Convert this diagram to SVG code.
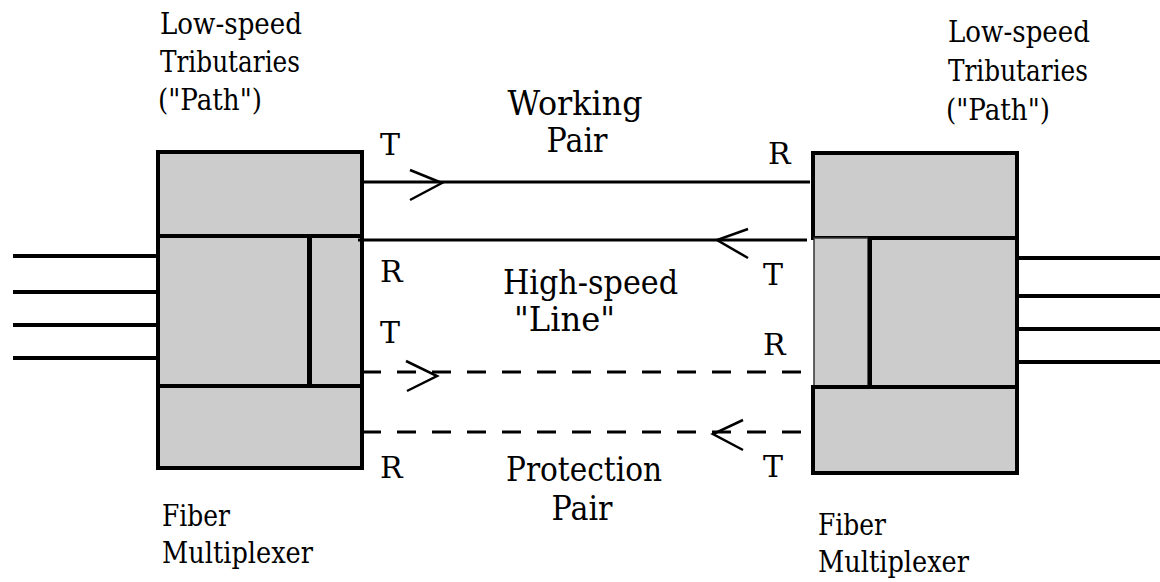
<svg xmlns="http://www.w3.org/2000/svg" width="1160" height="582" viewBox="0 0 1160 582">
  <style>
    text { font-family: 'DejaVu Serif', 'Liberation Serif', serif; font-size: 29px; fill: #000; }
    .mid { font-size: 33px; }
    .port { font-size: 30px; }
    .blk { fill: #cccccc; stroke: #000; stroke-width: 4; }
    .thin { fill: #cccccc; stroke: #333; stroke-width: 1.5; }
    .trib { stroke: #000; stroke-width: 4; fill: none; }
    .fiber { stroke: #000; stroke-width: 3; fill: none; }
    .dash { stroke-dasharray: 19 16; }
    .head { stroke: #000; stroke-width: 2.5; fill: none; }
  </style>

  <rect width="1160" height="582" fill="#fff"/>

  <!-- west multiplexer -->
  <g id="mux-west">
    <line class="trib" x1="13" y1="256" x2="157" y2="256"/>
    <line class="trib" x1="13" y1="292" x2="157" y2="292"/>
    <line class="trib" x1="13" y1="325" x2="157" y2="325"/>
    <line class="trib" x1="13" y1="358" x2="157" y2="358"/>
    <rect class="blk" x="158" y="152" width="204" height="84"/>
    <rect class="blk" x="158" y="236" width="151" height="150"/>
    <rect class="blk" x="310" y="236" width="52" height="150"/>
    <rect class="blk" x="158" y="386" width="204" height="82"/>
    <text x="160" y="34" textLength="142" lengthAdjust="spacingAndGlyphs">Low-speed</text>
    <text x="160" y="72" textLength="140" lengthAdjust="spacingAndGlyphs">Tributaries</text>
    <text x="158" y="110" textLength="104" lengthAdjust="spacingAndGlyphs">("Path")</text>
    <text x="162" y="526" textLength="68" lengthAdjust="spacingAndGlyphs">Fiber</text>
    <text x="162" y="563" textLength="151" lengthAdjust="spacingAndGlyphs">Multiplexer</text>
  </g>

  <!-- east multiplexer -->
  <g id="mux-east">
    <line class="trib" x1="1018" y1="258" x2="1160" y2="258"/>
    <line class="trib" x1="1018" y1="296" x2="1160" y2="296"/>
    <line class="trib" x1="1018" y1="329" x2="1160" y2="329"/>
    <line class="trib" x1="1018" y1="362" x2="1160" y2="362"/>
    <rect class="blk" x="813" y="153" width="204" height="85"/>
    <rect class="thin" x="814" y="238" width="54" height="149"/>
    <rect class="blk" x="870" y="238" width="147" height="149"/>
    <rect class="blk" x="813" y="387" width="204" height="86"/>
    <text x="948" y="42" textLength="142" lengthAdjust="spacingAndGlyphs">Low-speed</text>
    <text x="948" y="81" textLength="140" lengthAdjust="spacingAndGlyphs">Tributaries</text>
    <text x="946" y="120" textLength="104" lengthAdjust="spacingAndGlyphs">("Path")</text>
    <text x="818" y="535" textLength="68" lengthAdjust="spacingAndGlyphs">Fiber</text>
    <text x="818" y="572" textLength="151" lengthAdjust="spacingAndGlyphs">Multiplexer</text>
  </g>

  <!-- fiber pairs between the two multiplexers -->
  <g id="links">
    <line class="fiber" x1="362" y1="182" x2="810" y2="182"/>
    <polyline class="head" points="410,170 442,183 410,200"/>
    <line class="fiber" x1="358" y1="240" x2="807" y2="240"/>
    <polyline class="head" points="748,229 717,240 748,258"/>
    <line class="fiber dash" x1="362" y1="372" x2="810" y2="372"/>
    <polyline class="head" points="406,361 437,376 407,391"/>
    <line class="fiber dash" x1="362" y1="432" x2="810" y2="432"/>
    <polyline class="head" points="743,420 713,434 743,450"/>
  </g>

  <!-- port and pair labels -->
  <g id="labels">
    <text class="port" x="380" y="155">T</text>
    <text class="port" x="380" y="282">R</text>
    <text class="port" x="380" y="343">T</text>
    <text class="port" x="380" y="478">R</text>
    <text class="port" x="768" y="164">R</text>
    <text class="port" x="763" y="285">T</text>
    <text class="port" x="763" y="355">R</text>
    <text class="port" x="763" y="477">T</text>
    <text class="mid" x="575" y="115" text-anchor="middle" textLength="135" lengthAdjust="spacingAndGlyphs">Working</text>
    <text class="mid" x="577" y="152" text-anchor="middle" textLength="61" lengthAdjust="spacingAndGlyphs">Pair</text>
    <text class="mid" x="503" y="294" textLength="175" lengthAdjust="spacingAndGlyphs">High-speed</text>
    <text class="mid" x="514" y="331" textLength="101" lengthAdjust="spacingAndGlyphs">"Line"</text>
    <text class="mid" x="584" y="481" text-anchor="middle" textLength="156" lengthAdjust="spacingAndGlyphs">Protection</text>
    <text class="mid" x="582" y="520" text-anchor="middle" textLength="61" lengthAdjust="spacingAndGlyphs">Pair</text>
  </g>
</svg>
